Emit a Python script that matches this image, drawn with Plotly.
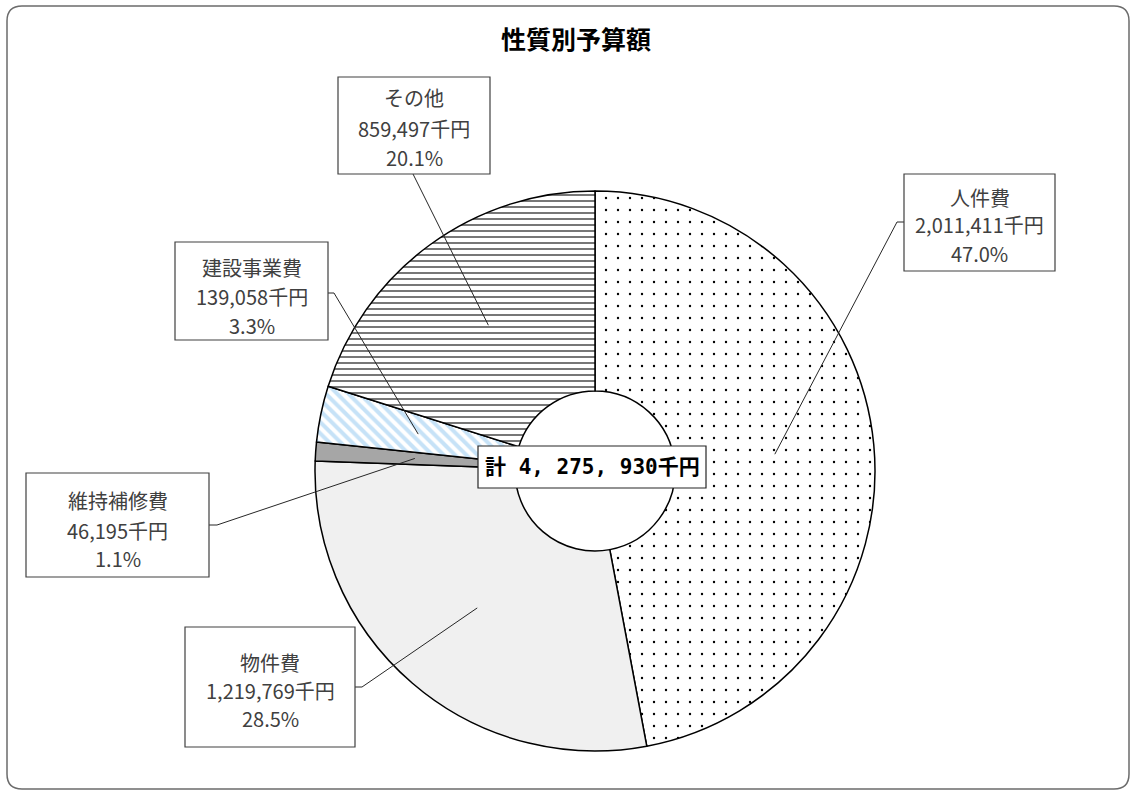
import math
import plotly.graph_objects as go

# ---- data ----
categories = ["人件費", "物件費", "維持補修費", "建設事業費", "その他"]
values = [2011411, 1219769, 46195, 139058, 859497]
title_text = "性質別予算額"
total_prefix = "計 "
unit = "千円"

# ---- styling / layout ----
W, H = 1136, 791
CX, CY, R = 595, 471, 280
HOLE = 80 / 280
ANCHOR_FRAC = 0.645

slice_styles = [
    dict(fill="white", shape=".", fg="black", size=12, sol=0.03),
    dict(fill="#f0f0f0", shape="", fg="#f0f0f0", size=8, sol=0.3),
    dict(fill="#a6a6a6", shape="", fg="#a6a6a6", size=8, sol=0.3),
    dict(fill="white", shape="\\", fg="#c6e2f7", size=8, sol=0.5),
    dict(fill="white", shape="-", fg="#1a1a1a", size=6, sol=0.2),
]

# label boxes: (x0, y0, x1, y1) pixels, line centres, leader start/elbow
label_layout = [
    dict(box=(904, 174, 1055, 271), lines=(197, 225, 254), pts=[(904, 222), (897, 222)]),
    dict(box=(185, 627, 355, 747), lines=(662, 690, 718), pts=[(355, 687), (362, 687)]),
    dict(box=(26, 473, 209, 577), lines=(500, 530, 558), pts=[(209, 525), (217, 525)]),
    dict(box=(175, 242, 328, 340), lines=(268, 297, 325), pts=[(328, 293), (334, 293)]),
    dict(box=(338, 77, 490, 174), lines=(98, 128, 157), pts=[(413, 174)]),
]


def px(x):
    return x / W


def py(y):
    return 1 - y / H


total = sum(values)

fig = go.Figure()
fig.add_trace(go.Pie(
    labels=categories,
    values=values,
    sort=False,
    direction="clockwise",
    rotation=0,
    hole=HOLE,
    textinfo="none",
    hoverinfo="label+value+percent",
    showlegend=False,
    domain=dict(x=[px(CX - R), px(CX + R)], y=[py(CY + R), py(CY - R)]),
    marker=dict(
        colors=[s["fill"] for s in slice_styles],
        line=dict(color="black", width=1.5),
        pattern=dict(
            shape=[s["shape"] for s in slice_styles],
            fgcolor=[s["fg"] for s in slice_styles],
            bgcolor=[s["fill"] for s in slice_styles],
            size=[s["size"] for s in slice_styles],
            solidity=[s["sol"] for s in slice_styles],
            fillmode="replace",
        ),
    ),
))

shapes = []
annotations = []

# outer rounded frame
x0, y0, x1, y1, rr = 7, 6, 1129, 789, 15
path = (f"M {px(x0+rr)},{py(y0)} L {px(x1-rr)},{py(y0)} "
        f"Q {px(x1)},{py(y0)} {px(x1)},{py(y0+rr)} L {px(x1)},{py(y1-rr)} "
        f"Q {px(x1)},{py(y1)} {px(x1-rr)},{py(y1)} L {px(x0+rr)},{py(y1)} "
        f"Q {px(x0)},{py(y1)} {px(x0)},{py(y1-rr)} L {px(x0)},{py(y0+rr)} "
        f"Q {px(x0)},{py(y0)} {px(x0+rr)},{py(y0)} Z")
shapes.append(dict(type="path", xref="paper", yref="paper", path=path,
                   line=dict(color="#6b6b6b", width=1.5), fillcolor="rgba(0,0,0,0)", layer="below"))

label_font = dict(family="Noto Sans CJK JP, sans-serif", size=20, color="#404040")

cum = 0.0
for cat, val, lay in zip(categories, values, label_layout):
    frac = val / total
    mid = (cum + frac / 2) * 2 * math.pi
    cum += frac
    ax = CX + ANCHOR_FRAC * R * math.sin(mid)
    ay = CY - ANCHOR_FRAC * R * math.cos(mid)
    pts = lay["pts"] + [(ax, ay)]
    p = "M " + " L ".join(f"{px(x)},{py(y)}" for x, y in pts)
    shapes.append(dict(type="path", xref="paper", yref="paper", path=p,
                       line=dict(color="#262626", width=1)))
    bx0, by0, bx1, by1 = lay["box"]
    shapes.append(dict(type="rect", xref="paper", yref="paper",
                       x0=px(bx0), x1=px(bx1), y0=py(by1), y1=py(by0),
                       line=dict(color="#404040", width=1.2), fillcolor="white"))
    texts = [cat, f"{val:,}{unit}", f"{frac*100:.1f}%"]
    xc = (bx0 + bx1) / 2
    for t, ly in zip(texts, lay["lines"]):
        annotations.append(dict(x=px(xc), y=py(ly), xref="paper", yref="paper",
                                text=t, showarrow=False, xanchor="center", yanchor="middle",
                                font=label_font))

# centre total box
total_text = total_prefix + f"{total:,}".replace(",", ", ") + unit
shapes.append(dict(type="rect", xref="paper", yref="paper",
                   x0=px(478), x1=px(706), y0=py(488), y1=py(446),
                   line=dict(color="#262626", width=1.2), fillcolor="white"))
annotations.append(dict(x=px(592), y=py(467), xref="paper", yref="paper",
                        text=f"<b>{total_text}</b>", showarrow=False,
                        xanchor="center", yanchor="middle",
                        font=dict(family="DejaVu Sans Mono, Noto Sans CJK JP, monospace",
                                  size=21, color="black")))

# title
annotations.append(dict(x=px(576), y=py(38), xref="paper", yref="paper",
                        text=f"<b>{title_text}</b>", showarrow=False,
                        xanchor="center", yanchor="middle",
                        font=dict(family="Noto Sans CJK JP, sans-serif", size=25, color="black")))

fig.update_layout(
    width=W, height=H, autosize=False,
    margin=dict(l=0, r=0, t=0, b=0),
    paper_bgcolor="white", plot_bgcolor="white",
    shapes=shapes, annotations=annotations,
)

fig.write_html("out.html")
